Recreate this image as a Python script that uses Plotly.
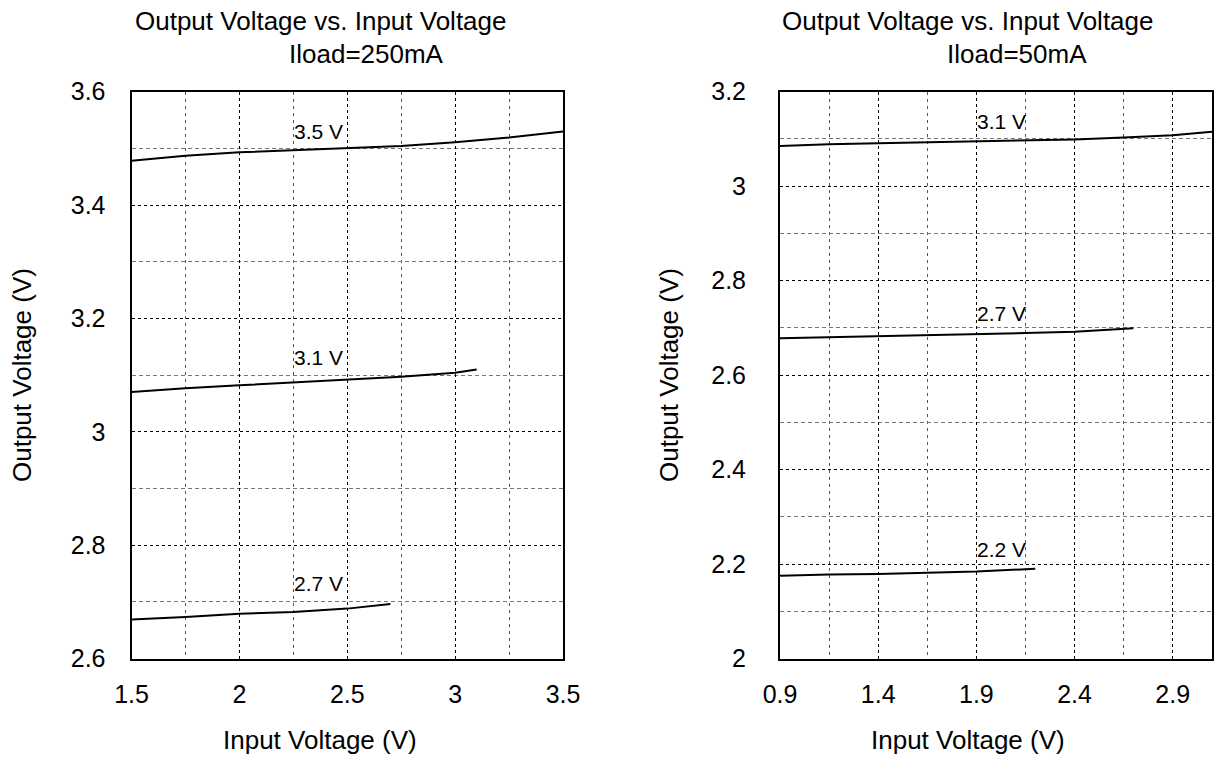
import plotly.graph_objects as go

# ---- data ----
vin_250 = [1.5, 1.75, 2.0, 2.25, 2.5, 2.75, 3.0, 3.25, 3.5]
vout_250_35 = [3.478, 3.487, 3.493, 3.497, 3.501, 3.504, 3.511, 3.519, 3.530]
vin_250_31 = [1.5, 1.75, 2.0, 2.25, 2.5, 2.75, 3.0, 3.1]
vout_250_31 = [3.070, 3.077, 3.082, 3.087, 3.091, 3.097, 3.104, 3.110]
vin_250_27 = [1.5, 1.75, 2.0, 2.25, 2.5, 2.7]
vout_250_27 = [2.669, 2.673, 2.679, 2.682, 2.688, 2.696]

vin_50_31 = [0.9, 1.15, 1.4, 1.65, 1.9, 2.15, 2.4, 2.65, 2.9, 3.1]
vout_50_31 = [3.085, 3.089, 3.091, 3.093, 3.096, 3.097, 3.099, 3.103, 3.108, 3.115]
vin_50_27 = [0.9, 1.15, 1.4, 1.65, 1.9, 2.15, 2.4, 2.7]
vout_50_27 = [2.678, 2.680, 2.682, 2.684, 2.687, 2.689, 2.692, 2.699]
vin_50_22 = [0.9, 1.15, 1.4, 1.65, 1.9, 2.2]
vout_50_22 = [2.175, 2.178, 2.179, 2.182, 2.184, 2.190]

curve_labels_250 = ["3.5 V", "3.1 V", "2.7 V"]
label_pos_250 = [(2.25, 3.53), (2.25, 3.131), (2.25, 2.733)]
curve_labels_50 = ["3.1 V", "2.7 V", "2.2 V"]
label_pos_50 = [(1.9, 3.136), (1.9, 2.731), (1.9, 2.231)]

titles = [("Output Voltage vs. Input Voltage", "Iload=250mA"),
          ("Output Voltage vs. Input Voltage", "Iload=50mA")]
xtitle = "Input Voltage (V)"
ytitle = "Output Voltage (V)"

W, H = 1214, 759
FONT = "Liberation Sans, Arial, sans-serif"

def px_x(p):
    return p / W

def px_y(p):
    return 1 - p / H

fig = go.Figure()
line = dict(color="black", width=2)
for xs, ys in [(vin_250, vout_250_35), (vin_250_31, vout_250_31), (vin_250_27, vout_250_27)]:
    fig.add_trace(go.Scatter(x=xs, y=ys, mode="lines", line=line, xaxis="x", yaxis="y", showlegend=False))
for xs, ys in [(vin_50_31, vout_50_31), (vin_50_27, vout_50_27), (vin_50_22, vout_50_22)]:
    fig.add_trace(go.Scatter(x=xs, y=ys, mode="lines", line=line, xaxis="x2", yaxis="y2", showlegend=False))

ydom = [px_y(658.5), px_y(91.7)]

def axis_common():
    return dict(
        showline=True, mirror=True, linecolor="black", linewidth=2,
        showgrid=True, gridcolor="black", gridwidth=1, griddash="3px,3px",
        zeroline=False, ticks="", automargin=False,
        tickfont=dict(family=FONT, size=25, color="black"),
    )

xa1 = axis_common()
xa1.update(domain=[px_x(131.5), px_x(563)], range=[1.5, 3.5], tick0=1.5, dtick=0.5,
           minor=dict(dtick=0.25, tick0=1.5, showgrid=True, gridcolor="#555", gridwidth=1, griddash="3px,4px"),
           ticklabelstandoff=12, anchor="y")
ya1 = axis_common()
ya1.update(domain=ydom, range=[2.6, 3.6], tick0=2.6, dtick=0.2,
           minor=dict(dtick=0.1, tick0=2.6, showgrid=True, gridcolor="#777", gridwidth=1, griddash="4px,3px"),
           ticklabelstandoff=19, anchor="x")
xa2 = axis_common()
xa2.update(domain=[px_x(780), px_x(1212)], range=[0.9, 3.1], tick0=0.9, dtick=0.5,
           minor=dict(dtick=0.25, tick0=0.9, showgrid=True, gridcolor="#555", gridwidth=1, griddash="3px,4px"),
           ticklabelstandoff=12, anchor="y2")
ya2 = axis_common()
ya2.update(domain=ydom, range=[2.0, 3.2], tick0=2.0, dtick=0.2,
           minor=dict(dtick=0.1, tick0=2.0, showgrid=True, gridcolor="#777", gridwidth=1, griddash="4px,3px"),
           ticklabelstandoff=27, anchor="x2")

annotations = []
tf = dict(family=FONT, size=26, color="black")
# titles (two lines with individual positions)
annotations.append(dict(text=titles[0][0], x=px_x(321), y=px_y(21), xref="paper", yref="paper",
                        showarrow=False, font=tf, xanchor="center", yanchor="middle"))
annotations.append(dict(text=titles[0][1], x=px_x(366), y=px_y(54), xref="paper", yref="paper",
                        showarrow=False, font=tf, xanchor="center", yanchor="middle"))
annotations.append(dict(text=titles[1][0], x=px_x(968), y=px_y(21), xref="paper", yref="paper",
                        showarrow=False, font=tf, xanchor="center", yanchor="middle"))
annotations.append(dict(text=titles[1][1], x=px_x(1017), y=px_y(54), xref="paper", yref="paper",
                        showarrow=False, font=tf, xanchor="center", yanchor="middle"))
# axis titles
for cx in (320, 968):
    annotations.append(dict(text=xtitle, x=px_x(cx), y=px_y(740), xref="paper", yref="paper",
                            showarrow=False, font=tf, xanchor="center", yanchor="middle"))
for cx in (22, 669):
    annotations.append(dict(text=ytitle, x=px_x(cx), y=px_y(375), xref="paper", yref="paper",
                            showarrow=False, font=tf, textangle=-90, xanchor="center", yanchor="middle"))
# curve labels
lf = dict(family=FONT, size=21, color="black")
for t, (x, y) in zip(curve_labels_250, label_pos_250):
    annotations.append(dict(text=t, x=x, y=y, xref="x", yref="y", showarrow=False, font=lf,
                            xanchor="left", yanchor="middle", xshift=-1))
for t, (x, y) in zip(curve_labels_50, label_pos_50):
    annotations.append(dict(text=t, x=x, y=y, xref="x2", yref="y2", showarrow=False, font=lf,
                            xanchor="left", yanchor="middle", xshift=-1))

fig.update_layout(
    template="none",
    width=W, height=H, margin=dict(l=0, r=0, t=0, b=0, pad=0, autoexpand=False),
    paper_bgcolor="white", plot_bgcolor="white",
    xaxis=xa1, yaxis=ya1, xaxis2=xa2, yaxis2=ya2,
    annotations=annotations, showlegend=False, hovermode=False,
    font=dict(family=FONT, color="black"),
)
fig.write_html(
    "out.html",
    config={"displayModeBar": False, "staticPlot": True},
    post_script="document.body.style.margin='0px';document.body.style.overflow='hidden';",
)
